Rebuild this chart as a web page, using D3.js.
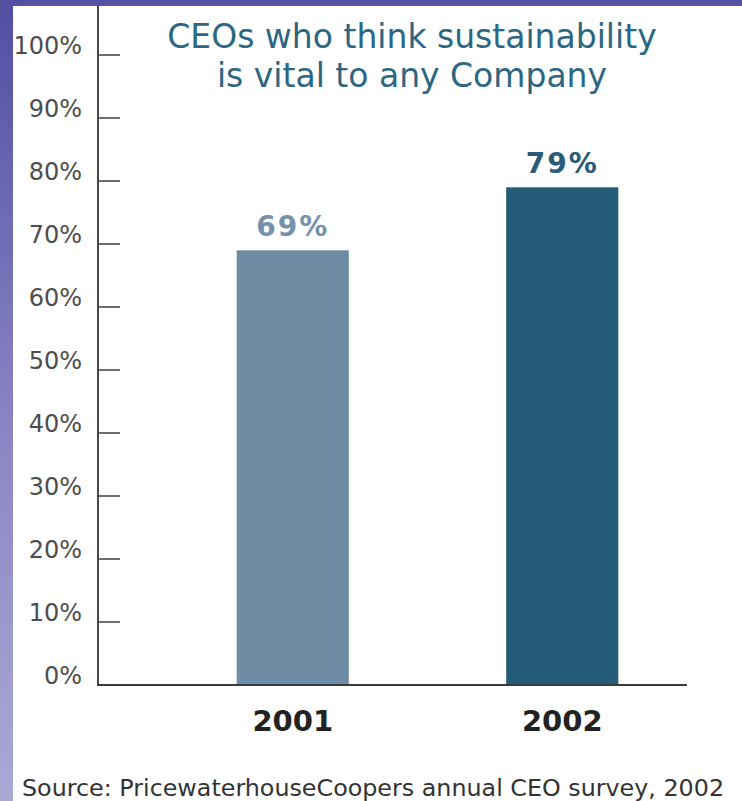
<!DOCTYPE html>
<html>
<head>
<meta charset="utf-8">
<script src="https://cdn.jsdelivr.net/npm/d3@7"></script>
<style>
  html, body { margin: 0; padding: 0; background: #ffffff; }
  svg { display: block; }
</style>
</head>
<body>
<svg id="chart" width="742" height="801"></svg>
<script>
// Survey data
const years = ["2001", "2002"];
const shares = [69, 79];
const barColors = ["#6e8da4", "#245b76"];
const labelColors = ["#7592aa", "#2a5b78"];
const tickValues = [0, 10, 20, 30, 40, 50, 60, 70, 80, 90, 100];
const tickLabels = ["0%", "10%", "20%", "30%", "40%", "50%", "60%", "70%", "80%", "90%", "100%"];
const titleLines = ["CEOs who think sustainability", "is vital to any Company"];
const sourceText = "Source: PricewaterhouseCoopers annual CEO survey, 2002";

const svg = d3.select("#chart");
const W = 742, H = 801;

// Frame: purple gradient strip on the left and a band across the top
const defs = svg.append("defs");
const grad = defs.append("linearGradient")
  .attr("id", "sideGrad").attr("x1", 0).attr("y1", 0).attr("x2", 0).attr("y2", 1);
grad.append("stop").attr("offset", "0%").attr("stop-color", "#524ea3");
grad.append("stop").attr("offset", "55%").attr("stop-color", "#8b87c4");
grad.append("stop").attr("offset", "100%").attr("stop-color", "#aba8d6");

svg.append("rect").attr("x", 0).attr("y", 0).attr("width", 13).attr("height", H)
  .attr("fill", "url(#sideGrad)");
svg.append("rect").attr("x", 0).attr("y", 0).attr("width", W).attr("height", 6)
  .attr("fill", "#5551a4");

// Scales
const y = d3.scaleLinear().domain([0, 100]).range([685, 55]);
const x = d3.scaleBand().domain(years).range([158, 697])
  .paddingInner(0.584).paddingOuter(0.292);

const axisX = 98;

// Bars
svg.append("g").selectAll("rect")
  .data(years)
  .join("rect")
  .attr("x", d => x(d))
  .attr("y", (d, i) => y(shares[i]))
  .attr("width", x.bandwidth())
  .attr("height", (d, i) => y(0) - y(shares[i]))
  .attr("fill", (d, i) => barColors[i]);

// Value labels above bars
svg.append("g").selectAll("text")
  .data(years)
  .join("text")
  .attr("x", d => x(d) + x.bandwidth() / 2)
  .attr("y", (d, i) => y(shares[i]) - 14)
  .attr("text-anchor", "middle")
  .attr("font-family", "DejaVu Sans, Verdana, sans-serif")
  .attr("font-weight", "bold")
  .attr("font-size", 28)
  .attr("letter-spacing", 2)
  .attr("fill", (d, i) => labelColors[i])
  .text((d, i) => shares[i] + "%");

// Y axis: vertical line with short inward ticks
svg.append("line")
  .attr("x1", axisX).attr("x2", axisX)
  .attr("y1", 6).attr("y2", y(0) + 1)
  .attr("stroke", "#4a4a4a").attr("stroke-width", 2);

const ticks = svg.append("g");
ticks.selectAll("line")
  .data(tickValues.filter(v => v > 0))
  .join("line")
  .attr("x1", axisX).attr("x2", axisX + 22)
  .attr("y1", d => y(d)).attr("y2", d => y(d))
  .attr("stroke", "#4a4a4a").attr("stroke-width", 1.6);

ticks.selectAll("text")
  .data(tickValues)
  .join("text")
  .attr("x", 82)
  .attr("y", d => y(d) - 1)
  .attr("text-anchor", "end")
  .attr("font-family", "DejaVu Sans, sans-serif")
  .attr("font-size", 24)
  .attr("fill", "#4d4d4d")
  .text((d, i) => tickLabels[i]);

// Baseline
svg.append("line")
  .attr("x1", axisX - 1).attr("x2", 687)
  .attr("y1", y(0)).attr("y2", y(0))
  .attr("stroke", "#3a3a3a").attr("stroke-width", 2);

// Category labels
svg.append("g").selectAll("text")
  .data(years)
  .join("text")
  .attr("x", d => x(d) + x.bandwidth() / 2)
  .attr("y", 731)
  .attr("text-anchor", "middle")
  .attr("font-family", "DejaVu Sans, Verdana, sans-serif")
  .attr("font-weight", "bold")
  .attr("font-size", 29)
  .attr("fill", "#222222")
  .text(d => d);

// Title
svg.append("g").selectAll("text")
  .data(titleLines)
  .join("text")
  .attr("x", 412)
  .attr("y", (d, i) => 48 + i * 39)
  .attr("text-anchor", "middle")
  .attr("font-family", "DejaVu Sans, Verdana, sans-serif")
  .attr("font-size", 33)
  .attr("fill", "#2c6682")
  .text(d => d);

// Source note
svg.append("text")
  .attr("x", 22)
  .attr("y", 796)
  .attr("font-family", "DejaVu Sans, Verdana, sans-serif")
  .attr("font-size", 23.8)
  .attr("fill", "#333333")
  .text(sourceText);
</script>
</body>
</html>
